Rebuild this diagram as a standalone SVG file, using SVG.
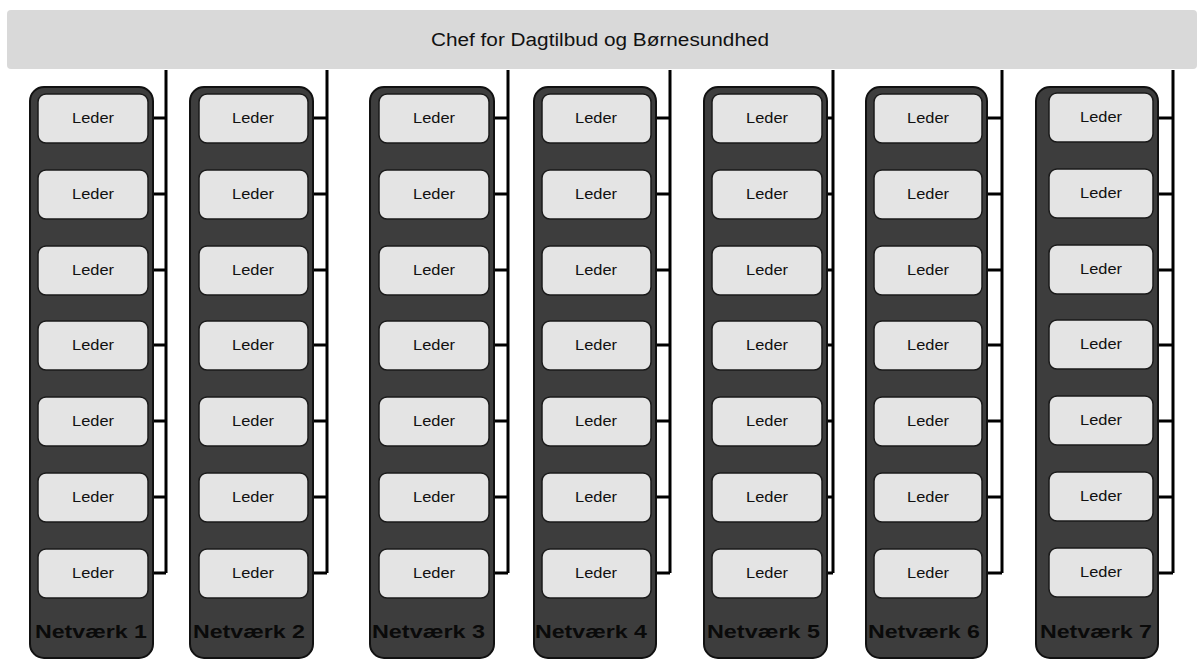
<svg xmlns="http://www.w3.org/2000/svg" width="1200" height="660" viewBox="0 0 1200 660">
<style>
.top{fill:#d9d9d9;stroke:none}
.net{fill:#3d3d3d;stroke:#111;stroke-width:2}
.box{fill:#e4e4e4;stroke:#1a1a1a;stroke-width:1.5}
.t{font-family:"Liberation Sans",Arial,sans-serif;fill:#111;text-anchor:middle}
.title{font-size:18px}
.ld{font-size:14px}
.nl{font-family:"Liberation Sans",Arial,sans-serif;font-weight:bold;font-size:19px;fill:#0a0a0a}
.c{fill:none;stroke:#000;stroke-width:3}
</style>
<rect width="1200" height="660" fill="#fff"/>
<g id="chef">
<rect class="top" x="7" y="10" width="1190" height="59" rx="4"/>
<text class="t title" x="600" y="46" textLength="338" lengthAdjust="spacingAndGlyphs">Chef for Dagtilbud og Børnesundhed</text>
</g>
<g id="connectors">
<path class="c" d="M166,70V573M148,118H166M148,194H166M148,270H166M148,345H166M148,421H166M148,497H166M148,573H166"/>
<path class="c" d="M327,70V573M308,118H327M308,194H327M308,270H327M308,345H327M308,421H327M308,497H327M308,573H327"/>
<path class="c" d="M508,70V573M489,118H508M489,194H508M489,270H508M489,345H508M489,421H508M489,497H508M489,573H508"/>
<path class="c" d="M670,70V573M651,118H670M651,194H670M651,270H670M651,345H670M651,421H670M651,497H670M651,573H670"/>
<path class="c" d="M833,70V573M822,118H833M822,194H833M822,270H833M822,345H833M822,421H833M822,497H833M822,573H833"/>
<path class="c" d="M1002,70V573M982,118H1002M982,194H1002M982,270H1002M982,345H1002M982,421H1002M982,497H1002M982,573H1002"/>
<path class="c" d="M1173,70V573M1153,118H1173M1153,194H1173M1153,270H1173M1153,345H1173M1153,421H1173M1153,497H1173M1153,573H1173"/>
</g>
<g id="netvaerk1"><rect class="net" x="30" y="87" width="123" height="571" rx="14"/><text class="nl" x="35" y="638" textLength="112" lengthAdjust="spacingAndGlyphs">Netværk 1</text></g>
<g id="netvaerk2"><rect class="net" x="190" y="87" width="123" height="571" rx="14"/><text class="nl" x="193" y="638" textLength="112" lengthAdjust="spacingAndGlyphs">Netværk 2</text></g>
<g id="netvaerk3"><rect class="net" x="370" y="87" width="124" height="571" rx="14"/><text class="nl" x="372" y="638" textLength="113" lengthAdjust="spacingAndGlyphs">Netværk 3</text></g>
<g id="netvaerk4"><rect class="net" x="534" y="87" width="122" height="571" rx="14"/><text class="nl" x="535" y="638" textLength="112" lengthAdjust="spacingAndGlyphs">Netværk 4</text></g>
<g id="netvaerk5"><rect class="net" x="704" y="87" width="123" height="571" rx="14"/><text class="nl" x="707" y="638" textLength="113" lengthAdjust="spacingAndGlyphs">Netværk 5</text></g>
<g id="netvaerk6"><rect class="net" x="866" y="87" width="121" height="571" rx="14"/><text class="nl" x="868" y="638" textLength="112" lengthAdjust="spacingAndGlyphs">Netværk 6</text></g>
<g id="netvaerk7"><rect class="net" x="1036" y="87" width="122" height="571" rx="14"/><text class="nl" x="1040" y="638" textLength="112" lengthAdjust="spacingAndGlyphs">Netværk 7</text></g>
<g id="leaders1">
<g id="l1-1"><rect class="box" x="38" y="94" width="110" height="49" rx="8"/><text class="t ld" x="93" y="123" textLength="42" lengthAdjust="spacingAndGlyphs">Leder</text></g>
<g id="l1-2"><rect class="box" x="38" y="170" width="110" height="49" rx="8"/><text class="t ld" x="93" y="199" textLength="42" lengthAdjust="spacingAndGlyphs">Leder</text></g>
<g id="l1-3"><rect class="box" x="38" y="246" width="110" height="49" rx="8"/><text class="t ld" x="93" y="275" textLength="42" lengthAdjust="spacingAndGlyphs">Leder</text></g>
<g id="l1-4"><rect class="box" x="38" y="321" width="110" height="49" rx="8"/><text class="t ld" x="93" y="350" textLength="42" lengthAdjust="spacingAndGlyphs">Leder</text></g>
<g id="l1-5"><rect class="box" x="38" y="397" width="110" height="49" rx="8"/><text class="t ld" x="93" y="426" textLength="42" lengthAdjust="spacingAndGlyphs">Leder</text></g>
<g id="l1-6"><rect class="box" x="38" y="473" width="110" height="49" rx="8"/><text class="t ld" x="93" y="502" textLength="42" lengthAdjust="spacingAndGlyphs">Leder</text></g>
<g id="l1-7"><rect class="box" x="38" y="549" width="110" height="49" rx="8"/><text class="t ld" x="93" y="578" textLength="42" lengthAdjust="spacingAndGlyphs">Leder</text></g>
</g>
<g id="leaders2">
<g id="l2-1"><rect class="box" x="199" y="94" width="109" height="49" rx="8"/><text class="t ld" x="253" y="123" textLength="42" lengthAdjust="spacingAndGlyphs">Leder</text></g>
<g id="l2-2"><rect class="box" x="199" y="170" width="109" height="49" rx="8"/><text class="t ld" x="253" y="199" textLength="42" lengthAdjust="spacingAndGlyphs">Leder</text></g>
<g id="l2-3"><rect class="box" x="199" y="246" width="109" height="49" rx="8"/><text class="t ld" x="253" y="275" textLength="42" lengthAdjust="spacingAndGlyphs">Leder</text></g>
<g id="l2-4"><rect class="box" x="199" y="321" width="109" height="49" rx="8"/><text class="t ld" x="253" y="350" textLength="42" lengthAdjust="spacingAndGlyphs">Leder</text></g>
<g id="l2-5"><rect class="box" x="199" y="397" width="109" height="49" rx="8"/><text class="t ld" x="253" y="426" textLength="42" lengthAdjust="spacingAndGlyphs">Leder</text></g>
<g id="l2-6"><rect class="box" x="199" y="473" width="109" height="49" rx="8"/><text class="t ld" x="253" y="502" textLength="42" lengthAdjust="spacingAndGlyphs">Leder</text></g>
<g id="l2-7"><rect class="box" x="199" y="549" width="109" height="49" rx="8"/><text class="t ld" x="253" y="578" textLength="42" lengthAdjust="spacingAndGlyphs">Leder</text></g>
</g>
<g id="leaders3">
<g id="l3-1"><rect class="box" x="379" y="94" width="110" height="49" rx="8"/><text class="t ld" x="434" y="123" textLength="42" lengthAdjust="spacingAndGlyphs">Leder</text></g>
<g id="l3-2"><rect class="box" x="379" y="170" width="110" height="49" rx="8"/><text class="t ld" x="434" y="199" textLength="42" lengthAdjust="spacingAndGlyphs">Leder</text></g>
<g id="l3-3"><rect class="box" x="379" y="246" width="110" height="49" rx="8"/><text class="t ld" x="434" y="275" textLength="42" lengthAdjust="spacingAndGlyphs">Leder</text></g>
<g id="l3-4"><rect class="box" x="379" y="321" width="110" height="49" rx="8"/><text class="t ld" x="434" y="350" textLength="42" lengthAdjust="spacingAndGlyphs">Leder</text></g>
<g id="l3-5"><rect class="box" x="379" y="397" width="110" height="49" rx="8"/><text class="t ld" x="434" y="426" textLength="42" lengthAdjust="spacingAndGlyphs">Leder</text></g>
<g id="l3-6"><rect class="box" x="379" y="473" width="110" height="49" rx="8"/><text class="t ld" x="434" y="502" textLength="42" lengthAdjust="spacingAndGlyphs">Leder</text></g>
<g id="l3-7"><rect class="box" x="379" y="549" width="110" height="49" rx="8"/><text class="t ld" x="434" y="578" textLength="42" lengthAdjust="spacingAndGlyphs">Leder</text></g>
</g>
<g id="leaders4">
<g id="l4-1"><rect class="box" x="542" y="94" width="109" height="49" rx="8"/><text class="t ld" x="596" y="123" textLength="42" lengthAdjust="spacingAndGlyphs">Leder</text></g>
<g id="l4-2"><rect class="box" x="542" y="170" width="109" height="49" rx="8"/><text class="t ld" x="596" y="199" textLength="42" lengthAdjust="spacingAndGlyphs">Leder</text></g>
<g id="l4-3"><rect class="box" x="542" y="246" width="109" height="49" rx="8"/><text class="t ld" x="596" y="275" textLength="42" lengthAdjust="spacingAndGlyphs">Leder</text></g>
<g id="l4-4"><rect class="box" x="542" y="321" width="109" height="49" rx="8"/><text class="t ld" x="596" y="350" textLength="42" lengthAdjust="spacingAndGlyphs">Leder</text></g>
<g id="l4-5"><rect class="box" x="542" y="397" width="109" height="49" rx="8"/><text class="t ld" x="596" y="426" textLength="42" lengthAdjust="spacingAndGlyphs">Leder</text></g>
<g id="l4-6"><rect class="box" x="542" y="473" width="109" height="49" rx="8"/><text class="t ld" x="596" y="502" textLength="42" lengthAdjust="spacingAndGlyphs">Leder</text></g>
<g id="l4-7"><rect class="box" x="542" y="549" width="109" height="49" rx="8"/><text class="t ld" x="596" y="578" textLength="42" lengthAdjust="spacingAndGlyphs">Leder</text></g>
</g>
<g id="leaders5">
<g id="l5-1"><rect class="box" x="712" y="94" width="110" height="49" rx="8"/><text class="t ld" x="767" y="123" textLength="42" lengthAdjust="spacingAndGlyphs">Leder</text></g>
<g id="l5-2"><rect class="box" x="712" y="170" width="110" height="49" rx="8"/><text class="t ld" x="767" y="199" textLength="42" lengthAdjust="spacingAndGlyphs">Leder</text></g>
<g id="l5-3"><rect class="box" x="712" y="246" width="110" height="49" rx="8"/><text class="t ld" x="767" y="275" textLength="42" lengthAdjust="spacingAndGlyphs">Leder</text></g>
<g id="l5-4"><rect class="box" x="712" y="321" width="110" height="49" rx="8"/><text class="t ld" x="767" y="350" textLength="42" lengthAdjust="spacingAndGlyphs">Leder</text></g>
<g id="l5-5"><rect class="box" x="712" y="397" width="110" height="49" rx="8"/><text class="t ld" x="767" y="426" textLength="42" lengthAdjust="spacingAndGlyphs">Leder</text></g>
<g id="l5-6"><rect class="box" x="712" y="473" width="110" height="49" rx="8"/><text class="t ld" x="767" y="502" textLength="42" lengthAdjust="spacingAndGlyphs">Leder</text></g>
<g id="l5-7"><rect class="box" x="712" y="549" width="110" height="49" rx="8"/><text class="t ld" x="767" y="578" textLength="42" lengthAdjust="spacingAndGlyphs">Leder</text></g>
</g>
<g id="leaders6">
<g id="l6-1"><rect class="box" x="874" y="94" width="108" height="49" rx="8"/><text class="t ld" x="928" y="123" textLength="42" lengthAdjust="spacingAndGlyphs">Leder</text></g>
<g id="l6-2"><rect class="box" x="874" y="170" width="108" height="49" rx="8"/><text class="t ld" x="928" y="199" textLength="42" lengthAdjust="spacingAndGlyphs">Leder</text></g>
<g id="l6-3"><rect class="box" x="874" y="246" width="108" height="49" rx="8"/><text class="t ld" x="928" y="275" textLength="42" lengthAdjust="spacingAndGlyphs">Leder</text></g>
<g id="l6-4"><rect class="box" x="874" y="321" width="108" height="49" rx="8"/><text class="t ld" x="928" y="350" textLength="42" lengthAdjust="spacingAndGlyphs">Leder</text></g>
<g id="l6-5"><rect class="box" x="874" y="397" width="108" height="49" rx="8"/><text class="t ld" x="928" y="426" textLength="42" lengthAdjust="spacingAndGlyphs">Leder</text></g>
<g id="l6-6"><rect class="box" x="874" y="473" width="108" height="49" rx="8"/><text class="t ld" x="928" y="502" textLength="42" lengthAdjust="spacingAndGlyphs">Leder</text></g>
<g id="l6-7"><rect class="box" x="874" y="549" width="108" height="49" rx="8"/><text class="t ld" x="928" y="578" textLength="42" lengthAdjust="spacingAndGlyphs">Leder</text></g>
</g>
<g id="leaders7">
<g id="l7-1"><rect class="box" x="1049" y="93" width="104" height="49" rx="8"/><text class="t ld" x="1101" y="122" textLength="42" lengthAdjust="spacingAndGlyphs">Leder</text></g>
<g id="l7-2"><rect class="box" x="1049" y="169" width="104" height="49" rx="8"/><text class="t ld" x="1101" y="198" textLength="42" lengthAdjust="spacingAndGlyphs">Leder</text></g>
<g id="l7-3"><rect class="box" x="1049" y="245" width="104" height="49" rx="8"/><text class="t ld" x="1101" y="274" textLength="42" lengthAdjust="spacingAndGlyphs">Leder</text></g>
<g id="l7-4"><rect class="box" x="1049" y="320" width="104" height="49" rx="8"/><text class="t ld" x="1101" y="349" textLength="42" lengthAdjust="spacingAndGlyphs">Leder</text></g>
<g id="l7-5"><rect class="box" x="1049" y="396" width="104" height="49" rx="8"/><text class="t ld" x="1101" y="425" textLength="42" lengthAdjust="spacingAndGlyphs">Leder</text></g>
<g id="l7-6"><rect class="box" x="1049" y="472" width="104" height="49" rx="8"/><text class="t ld" x="1101" y="501" textLength="42" lengthAdjust="spacingAndGlyphs">Leder</text></g>
<g id="l7-7"><rect class="box" x="1049" y="548" width="104" height="49" rx="8"/><text class="t ld" x="1101" y="577" textLength="42" lengthAdjust="spacingAndGlyphs">Leder</text></g>
</g>
</svg>
